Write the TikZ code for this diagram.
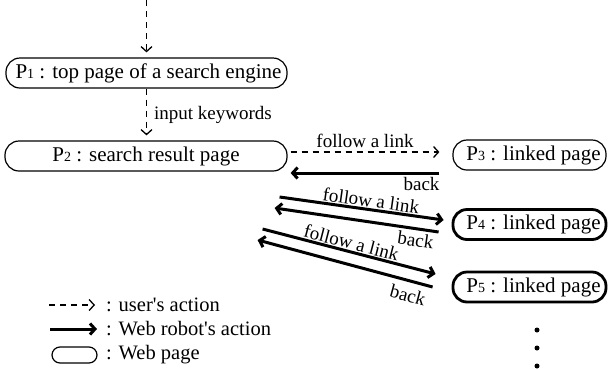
\documentclass[tikz,border=0pt]{standalone}
\usepackage{fontspec}
\setmainfont{Liberation Serif}
\newfontfamily\plainserif{Liberation Serif}
\usetikzlibrary{arrows.meta,calc}
\newcommand{\pg}[1]{P{\fontsize{14}{14}\selectfont #1}}
\newcommand{\apos}{{\plainserif '}}
\begin{document}
\begin{tikzpicture}[x=1pt,y=1pt,
  page/.style={draw, line width=1.2pt, rounded corners=14pt, minimum height=30pt, inner sep=0pt, font=\fontsize{21}{23}\selectfont},
  thickpage/.style={page, line width=2.8pt},
  user/.style={line width=1.3pt, dash pattern=on 6pt off 5pt, -{Straight Barb[length=5pt,width=11pt]}},
  robot/.style={line width=3pt, -{Straight Barb[length=5pt,width=11pt]}},
  lbl/.style={font=\fontsize{19}{21}\selectfont, inner sep=1pt},
  legtext/.style={font=\fontsize{20.5}{22}\selectfont, inner sep=1pt, anchor=west},
  dot/.style={circle, fill, inner sep=0pt, minimum size=5pt},
  ]
\useasboundingbox (0,0) rectangle (608,-368);

% pages
\node[page, minimum width=281pt] (P1) at (146.5,-73) {\hspace*{4pt}\pg{1} : top page of a search engine};
\node[page, minimum width=282pt] (P2) at (146,-156) {\pg{2} : search result page};
\node[page, minimum width=153pt] (P3) at (529.5,-155) {\hspace*{8pt}\pg{3} : linked page};
\node[thickpage, minimum width=153pt] (P4) at (529.5,-224.5) {\hspace*{8pt}\pg{4} : linked page};
\node[thickpage, minimum width=153pt] (P5) at (529.5,-287) {\hspace*{8pt}\pg{5} : linked page};

% user's actions
\coordinate (top) at (146.5,0);
\draw[user, shorten >=5pt] (top) -- (P1.north);
\draw[user, shorten >=5pt] (P1.south) -- (P1.south |- P2.north)
  node[lbl, midway, right=6pt] {input keywords};
\draw[user] ($(P2.east)+(3,4)$) -- ($(P3.west)+(-13,3)$)
  node[lbl, midway, above=3pt] {follow a link};

% robot's actions
\draw[robot] ($(P3.west)+(-13,-18)$) -- ($(P2.east)+(3,-17)$)
  node[lbl, pos=0.12, below=2pt] {back};
\draw[robot] ($(P2.east)+(-8,-41)$) -- ($(P4.west)+(-8,4.5)$)
  node[lbl, pos=0.55, above, sloped] {follow a link};
\draw[robot] ($(P4.west)+(-13,-7.5)$) -- ($(P2.east)+(-13,-52)$)
  node[lbl, pos=0.13, below=2pt, sloped] {back};
\draw[robot] ($(P2.east)+(-25,-73)$) -- ($(P5.west)+(-16,13)$)
  node[lbl, midway, above, sloped] {follow a link};
\draw[robot] ($(P5.west)+(-19,0)$) -- ($(P2.east)+(-30,-84)$)
  node[lbl, pos=0.12, below=5pt, sloped] {back};

% dots
\node[dot] (d1) at (537,-330) {};
\node[dot] (d2) at (537,-348) {};
\node[dot] (d3) at (537,-366) {};

% legend
\coordinate (u1) at (49,-305);
\coordinate (u2) at (95,-305);
\draw[user] (u1) -- (u2);
\node[legtext] (t1) at (105,-305) {: user\apos s action};
\coordinate (r1) at (50,-329);
\coordinate (r2) at (97,-329);
\draw[robot] (r1) -- (r2);
\node[legtext] (t2) at (105,-329) {: Web robot\apos s action};
\node[draw, line width=1.2pt, rounded corners=8pt, minimum width=45pt, minimum height=16pt, inner sep=0pt] (lp) at (74.5,-355) {};
\node[legtext] (t3) at (105,-355) {: Web page};
\end{tikzpicture}
\end{document}
